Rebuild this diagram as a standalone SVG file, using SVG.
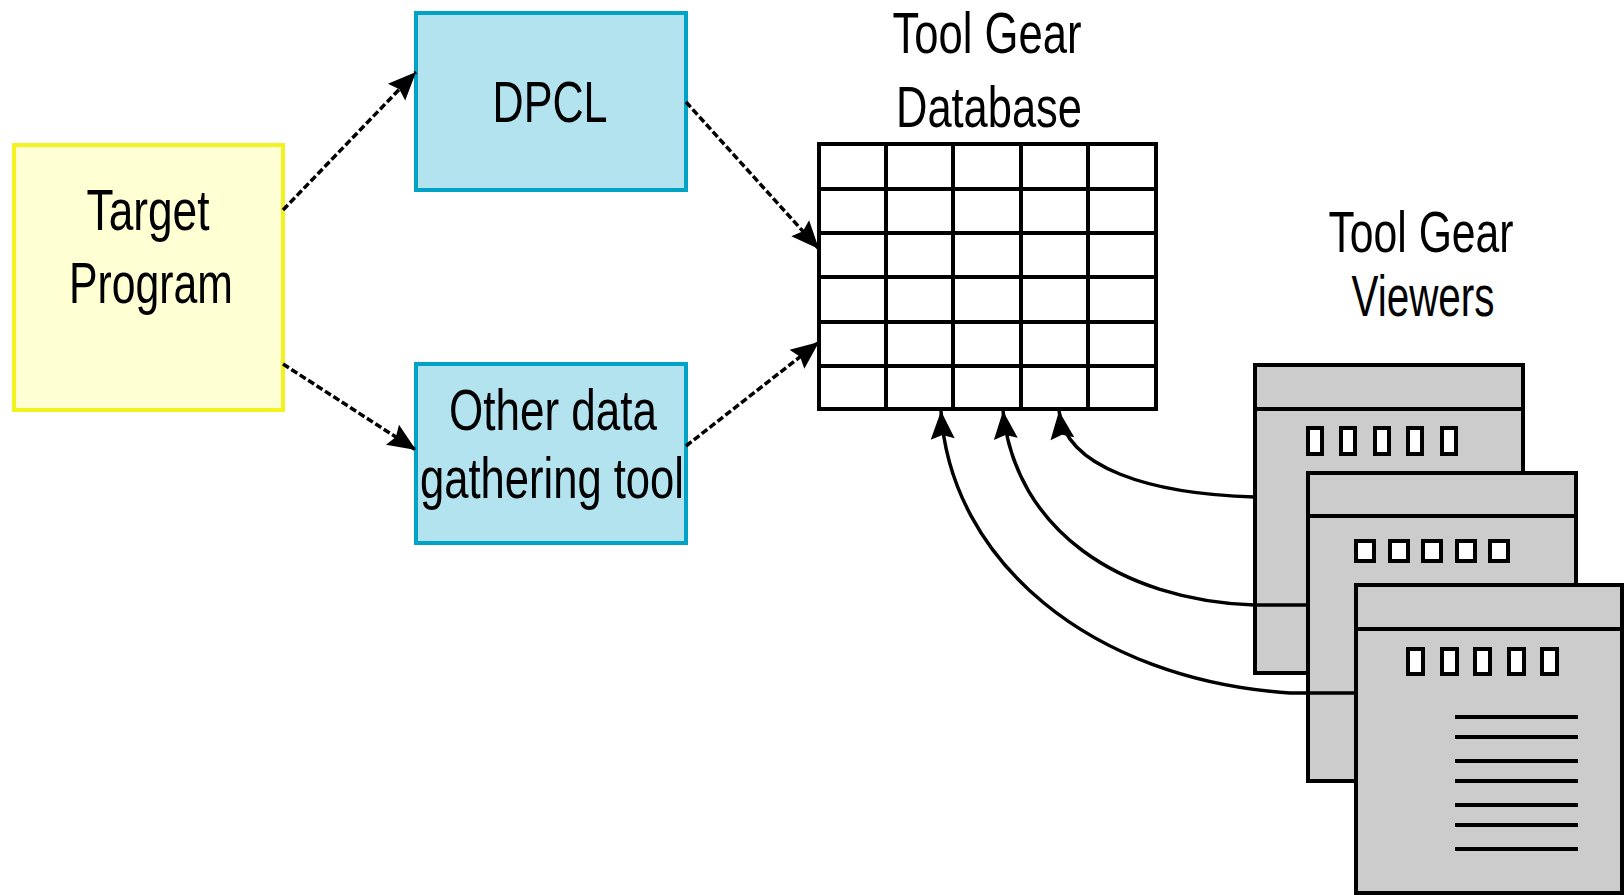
<svg xmlns="http://www.w3.org/2000/svg" width="1624" height="895" viewBox="0 0 1624 895">
<style>
  .lbl{font-family:"Liberation Sans",Arial,sans-serif;font-size:57px;fill:#000;}
  .conn{fill:none;stroke:#000;stroke-width:3.5;}
  .dash{stroke-dasharray:7 3;}
  .win{fill:#cccccc;stroke:#000;stroke-width:4;}
  .sq{fill:#fff;stroke:#000;stroke-width:4;}
  .ln{stroke:#000;stroke-width:4;}
  .grid{fill:#fff;stroke:#000;stroke-width:4;}
</style>
<defs>
  <marker id="ah" markerUnits="userSpaceOnUse" viewBox="-30 -13 32 26" refX="0" refY="0" markerWidth="32" markerHeight="26" orient="auto">
    <path d="M0,0 L-28,-12 L-24,0 L-28,12 Z" fill="#000"/>
  </marker>
</defs>
<rect width="1624" height="895" fill="#fff"/>

<g id="target">
  <rect x="14" y="145" width="269" height="265" fill="#ffffd4" stroke="#f2f21e" stroke-width="4"/>
  <text class="lbl" x="148" y="230" text-anchor="middle" textLength="123" lengthAdjust="spacingAndGlyphs">Target</text>
  <text class="lbl" x="151" y="303" text-anchor="middle" textLength="164" lengthAdjust="spacingAndGlyphs">Program</text>
</g>

<g id="dpcl">
  <rect x="416" y="13" width="270" height="177" fill="#b3e3ee" stroke="#00a2c6" stroke-width="4"/>
  <text class="lbl" x="550" y="122" text-anchor="middle" textLength="115" lengthAdjust="spacingAndGlyphs">DPCL</text>
</g>

<g id="other">
  <rect x="416" y="364" width="270" height="179" fill="#b3e3ee" stroke="#00a2c6" stroke-width="4"/>
  <text class="lbl" x="553" y="430" text-anchor="middle" textLength="208" lengthAdjust="spacingAndGlyphs">Other data</text>
  <text class="lbl" x="552" y="498" text-anchor="middle" textLength="264" lengthAdjust="spacingAndGlyphs">gathering tool</text>
</g>

<g id="database">
  <text class="lbl" x="987" y="53" text-anchor="middle" textLength="189" lengthAdjust="spacingAndGlyphs">Tool Gear</text>
  <text class="lbl" x="989" y="127" text-anchor="middle" textLength="186" lengthAdjust="spacingAndGlyphs">Database</text>
  <rect class="grid" x="819" y="144" width="337" height="265"/>
  <path class="ln" d="M886,144V409 M953,144V409 M1021,144V409 M1088,144V409 M819,189H1156 M819,233H1156 M819,277H1156 M819,322H1156 M819,366H1156"/>
</g>

<g id="viewers-label">
  <text class="lbl" x="1421" y="252" text-anchor="middle" textLength="185" lengthAdjust="spacingAndGlyphs">Tool Gear</text>
  <text class="lbl" x="1423" y="316" text-anchor="middle" textLength="143" lengthAdjust="spacingAndGlyphs">Viewers</text>
</g>

<g id="viewer1">
  <rect class="win" x="1255" y="365" width="268" height="308"/>
  <line class="ln" x1="1255" y1="409" x2="1523" y2="409"/>
  <rect class="sq" x="1308" y="428" width="14" height="26"/>
  <rect class="sq" x="1341" y="428" width="14" height="26"/>
  <rect class="sq" x="1375" y="428" width="14" height="26"/>
  <rect class="sq" x="1408" y="428" width="14" height="26"/>
  <rect class="sq" x="1442" y="428" width="14" height="26"/>
</g>

<g id="viewer2">
  <rect class="win" x="1308" y="473" width="268" height="308"/>
  <line class="ln" x1="1308" y1="516" x2="1576" y2="516"/>
  <rect class="sq" x="1356" y="541" width="18" height="20"/>
  <rect class="sq" x="1390" y="541" width="18" height="20"/>
  <rect class="sq" x="1423" y="541" width="18" height="20"/>
  <rect class="sq" x="1457" y="541" width="18" height="20"/>
  <rect class="sq" x="1490" y="541" width="18" height="20"/>
</g>

<g id="viewer3">
  <rect class="win" x="1356" y="585" width="266" height="308"/>
  <line class="ln" x1="1356" y1="629" x2="1622" y2="629"/>
  <rect class="sq" x="1408" y="649" width="15" height="25"/>
  <rect class="sq" x="1442" y="649" width="15" height="25"/>
  <rect class="sq" x="1475" y="649" width="15" height="25"/>
  <rect class="sq" x="1509" y="649" width="15" height="25"/>
  <rect class="sq" x="1542" y="649" width="15" height="25"/>
  <path class="ln" stroke-width="4.5" d="M1455,717H1578 M1455,737H1578 M1455,761H1578 M1455,781H1578 M1455,805H1578 M1455,825H1578 M1455,849H1578"/>
</g>

<g id="connectors">
  <line class="conn dash" x1="283" y1="210" x2="416" y2="72" marker-end="url(#ah)"/>
  <line class="conn dash" x1="283" y1="364" x2="416" y2="450" marker-end="url(#ah)"/>
  <line class="conn dash" x1="686" y1="102" x2="819" y2="249" marker-end="url(#ah)"/>
  <line class="conn dash" x1="686" y1="446" x2="819" y2="342" marker-end="url(#ah)"/>
  <path class="conn" d="M1255,497 C1150,494 1066,468 1059,411" marker-end="url(#ah)"/>
  <path class="conn" d="M1308,605 L1254,605 C1120,600 1015,530 1003,411" marker-end="url(#ah)"/>
  <path class="conn" d="M1356,693 L1290,693 C1090,680 950,560 941,411" marker-end="url(#ah)"/>
</g>
</svg>
